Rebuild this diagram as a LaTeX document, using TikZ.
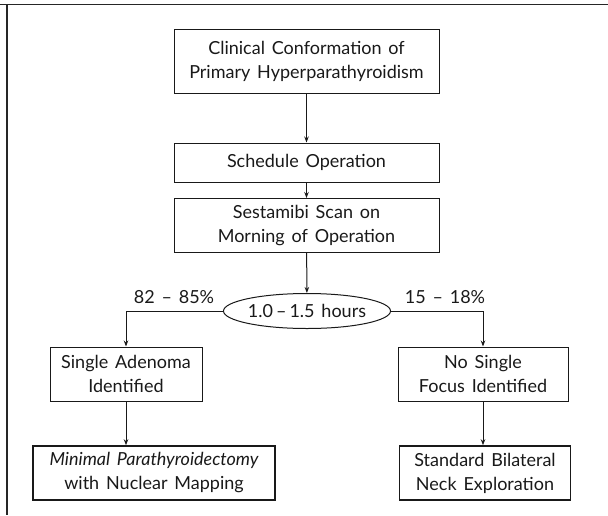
\documentclass[tikz,border=0pt]{standalone}
\usepackage{fontspec}
\setmainfont{Lato}
\usetikzlibrary{arrows.meta,shapes.geometric}
\begin{document}
\begin{tikzpicture}[x=1pt,y=-1pt,
  txt/.style={font={\fontsize{18}{24}\selectfont\spaceskip=.38em\relax}, text=black!90},
  box/.style={txt, draw=black!90, line width=1pt, align=center, inner sep=0pt},
  boldbox/.style={box, line width=1.6pt},
  oval/.style={txt, ellipse, draw=black!90, line width=1pt, inner sep=0pt, minimum width=154pt, minimum height=35pt},
  arr/.style={draw=black!90, line width=1pt, -{Stealth[length=6pt,width=4.5pt]}},
  conn/.style={draw=black!90, line width=1pt}]
\useasboundingbox (0,0) rectangle (608,515);
% frame (top and left edges)
\coordinate (ftl) at (7,4.5);
\draw[line width=1.1pt, black!85] (0,4.5) -- (608,4.5);
\draw[line width=1.4pt, black!85] (ftl) -- (7,515);
% boxes
\node[box, minimum width=265pt, minimum height=64pt] (b1) at (306.5,61) {Clinical Conformation of\\Primary Hyperparathyroidism};
\node[box, minimum width=265pt, minimum height=39pt] (b2) at (306.5,162.5) {Schedule Operation};
\node[box, minimum width=265pt, minimum height=54pt] (b3) at (306.5,225.5) {Sestamibi Scan on\\Morning of Operation};
\node[oval] (e) at (307,311) {1.0\,–\,1.5 hours};
\node[txt] (l1) at (174,297) {82 – 85\%};
\node[txt] (l2) at (445,297) {15 – 18\%};
\node[box, minimum width=152pt, minimum height=54pt] (b4) at (126,374) {Single Adenoma\\Identified};
\node[box, minimum width=170pt, minimum height=54pt] (b5) at (483,374) {No Single\\Focus Identified};
\node[boldbox, minimum width=242pt, minimum height=54pt] (b6) at (154,473) {\itshape Minimal Parathyroidectomy\\with Nuclear Mapping};
\node[boldbox, minimum width=171pt, minimum height=54pt] (b7) at (485,473) {Standard Bilateral\\Neck Exploration};
% connectors
\draw[arr] (b1) -- (b2);
\draw[arr] (b2) -- (b3);
\draw[arr] (b3) -- (e);
\draw[arr] (e.west) -| (b4.north);
\draw[arr] (e.east) -| (b5.north);
\draw[arr] (b4.south) -- (b4.south |- b6.north);
\draw[arr] (b5.south) -- (b5.south |- b7.north);
\end{tikzpicture}
\end{document}
